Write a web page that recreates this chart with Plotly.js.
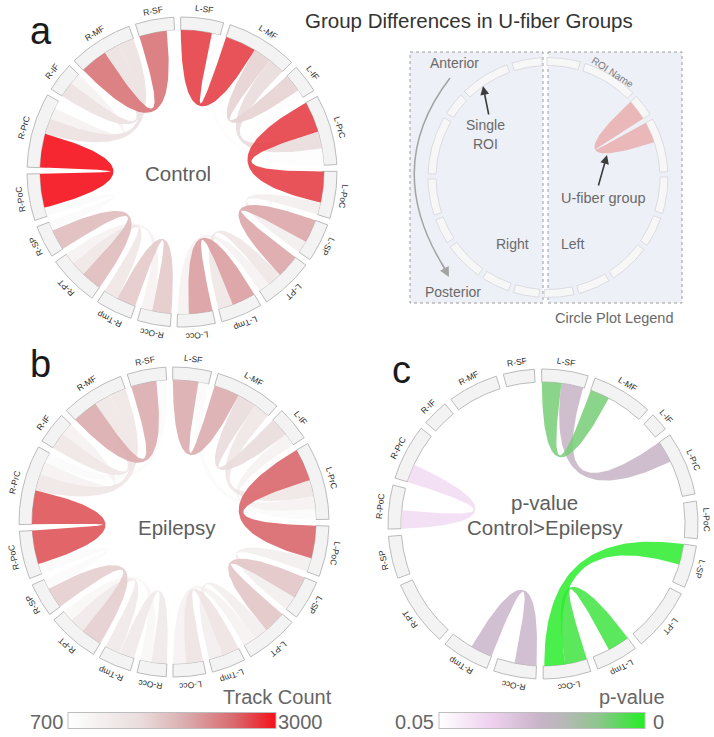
<!DOCTYPE html>
<html><head><meta charset="utf-8">
<script src="https://cdn.plot.ly/plotly-3.0.1.min.js"></script>
<style>html,body{margin:0;padding:0;background:#fff}#chart{width:714px;height:737px}</style>
</head><body><div id="chart"></div>
<script>
// ---------------- DATA ----------------
// ROIs, clockwise from the top of each circle
const roiNames = ['L-SF','L-MF','L-IF','L-PrC','L-PoC','L-SP','L-PT','L-Tmp','L-Occ',
                  'R-Occ','R-Tmp','R-PT','R-SP','R-PoC','R-PrC','R-IF','R-MF','R-SF'];

// U-fiber groups (panels a and b); list order = stacking order inside each ROI
const linkFrom = ['L-SF','L-PrC','L-SP','L-Tmp','R-SF','R-SP','R-PoC','R-PrC','R-Tmp',
                  'L-MF','L-MF','L-IF','L-SF','L-PoC','L-PT','L-PT','R-MF','R-MF','R-IF','R-SF','R-PT','R-PT'];
const linkTo   = ['L-MF','L-PoC','L-PT','L-Occ','R-MF','R-PT','R-SP','R-PoC','R-Occ',
                  'L-IF','L-PrC','L-PrC','L-PrC','L-SP','L-Tmp','L-Occ','R-IF','R-PrC','R-PrC','R-PrC','R-Tmp','R-Occ'];
const trackControl  = [2750,2750,2050,2100,2450,1850,800,3000,1700,
                       1600,1500,750,750,1100,1300,1000,1400,1400,1000,700,1300,1000];
const trackEpilepsy = [2000,2550,1750,1350,2000,1650,800,2650,1200,
                       1500,1300,1000,800,1100,1100,1000,1300,1300,1000,800,1200,900];

// Panel c: ROI sizes, significant groups, their widths and p-values
const roiSizeP = [17.5,23,7,24,14,16,24,16,18,16,18,25,16,16.5,21,10,19,11.7];
const sigFrom  = ['L-SF','L-SF','R-PrC','L-Occ','L-SP','R-Tmp'];
const sigTo    = ['L-MF','L-PrC','R-PoC','L-Tmp','L-Occ','R-Occ'];
const sigWidth = [8,9,7.5,9,8.5,9];
const pValue   = [0.009,0.025,0.04,0.003,0.001,0.026];

// Legend example group
const legendFrom = ['L-IF'], legendTo = ['L-PrC'], legendWidth = [2350];

// Colour scales
const trackScale = [[0,'#ffffff'],[0.15,'#f5f0f0'],[0.35,'#eadcdc'],[0.55,'#dbb0b2'],[0.8,'#d8696d'],[1,'#f5101a']];
const pScale = [[0,'#ffffff'],[0.25,'#efd1ef'],[0.5,'#c6b3c6'],[0.62,'#b5b9b5'],[0.78,'#8ac78a'],[0.9,'#52dc52'],[1,'#22f022']];
const trackMin = 700, trackMax = 3000, pMax = 0.05;

// ---------------- GEOMETRY HELPERS ----------------
const F = "'Helvetica Neue', Helvetica, 'Liberation Sans', Arial, sans-serif";
const D = Math.PI / 180;
function pt(cx, cy, r, a) { return [cx + r * Math.sin(a * D), cy - r * Math.cos(a * D)]; }
function hex2rgb(h) { return [parseInt(h.slice(1,3),16), parseInt(h.slice(3,5),16), parseInt(h.slice(5,7),16)]; }
function colorAt(scale, t) {
  t = Math.max(0, Math.min(1, t));
  for (let i = 1; i < scale.length; i++) {
    if (t <= scale[i][0]) {
      const f = (t - scale[i-1][0]) / (scale[i][0] - scale[i-1][0]);
      const a = hex2rgb(scale[i-1][1]), b = hex2rgb(scale[i][1]);
      return 'rgb(' + a.map((v, k) => Math.round(v + (b[k] - v) * f)).join(',') + ')';
    }
  }
  return scale[scale.length-1][1];
}
function roiTotals(froms, tos, vals) {
  const s = roiNames.map(() => 0);
  froms.forEach((f, i) => { s[roiNames.indexOf(f)] += vals[i]; s[roiNames.indexOf(tos[i])] += vals[i]; });
  return s;
}
function layoutRing(sizes, gap, start) {
  const total = sizes.reduce((a, v) => a + v, 0);
  const k = (360 - gap * sizes.length) / total;
  let a = start; const segs = [];
  sizes.forEach(v => { segs.push([a, a + v * k]); a += v * k + gap; });
  return { segs, k };
}
function linkEnds(froms, tos, widths, segs, k) {
  const cur = segs.map(s => s[0]);
  return froms.map((f, i) => {
    const ia = roiNames.indexOf(f), ib = roiNames.indexOf(tos[i]);
    const w = widths[i] * k;
    const ea = [cur[ia], cur[ia] + w]; cur[ia] += w;
    const eb = [cur[ib], cur[ib] + w]; cur[ib] += w;
    return [ea, eb];
  });
}
function ribbon(cx, cy, r, ea, eb) {
  const xs = [], ys = [];
  const arc = (a0, a1) => { const n = Math.max(3, Math.ceil(Math.abs(a1 - a0) / 0.5));
    for (let j = 0; j <= n; j++) { const p = pt(cx, cy, r, a0 + (a1 - a0) * j / n); xs.push(p[0]); ys.push(p[1]); } };
  const bez = (a0, a1) => { const p0 = pt(cx, cy, r, a0), p2 = pt(cx, cy, r, a1);
    for (let j = 1; j < 60; j++) { const t = j / 60, u = 1 - t;
      xs.push(u*u*p0[0] + 2*u*t*cx + t*t*p2[0]); ys.push(u*u*p0[1] + 2*u*t*cy + t*t*p2[1]); } };
  arc(ea[0], ea[1]); bez(ea[1], eb[0]); arc(eb[0], eb[1]); bez(eb[1], ea[0]);
  xs.push(xs[0]); ys.push(ys[0]);
  const m = (ea[0] + ea[1] + eb[0] + eb[1]) / 4, da = Math.abs((ea[0]+ea[1]) - (eb[0]+eb[1])) / 4;
  const tip = pt(cx, cy, r * 0.5 * Math.cos(da * D), m);
  return { xs, ys, tip };
}
function sector(cx, cy, r0, r1, a0, a1, fill, line, lw) {
  const xs = [], ys = []; const n = Math.max(4, Math.ceil((a1 - a0) / 0.5));
  for (let j = 0; j <= n; j++) { const p = pt(cx, cy, r1, a0 + (a1 - a0) * j / n); xs.push(p[0]); ys.push(p[1]); }
  for (let j = n; j >= 0; j--) { const p = pt(cx, cy, r0, a0 + (a1 - a0) * j / n); xs.push(p[0]); ys.push(p[1]); }
  xs.push(xs[0]); ys.push(ys[0]);
  return { type:'scatter', mode:'lines', x:xs, y:ys, fill:'toself', fillcolor:fill,
           line:{color:line, width:lw}, hoverinfo:'skip', showlegend:false };
}

const traces = [], annotations = [], shapes = [];

function panel(o) {
  const ring = layoutRing(o.sizes, o.gap, -0.5);
  ring.segs.forEach(s => traces.push(sector(o.cx, o.cy, o.rIn, o.rOut, s[0], s[1], o.segFill, o.segLine, o.segLw)));
  const ends = linkEnds(o.froms, o.tos, o.widths, ring.segs, ring.k);
  const idx = o.froms.map((_, i) => i).sort((a, b) => o.order(a) - o.order(b));
  const tips = [];
  idx.forEach(i => {
    const rb = ribbon(o.cx, o.cy, o.rIn, ends[i][0], ends[i][1]);
    tips[i] = rb.tip;
    traces.push({ type:'scatter', mode:'lines', x:rb.xs, y:rb.ys, fill:'toself', fillcolor:o.colors[i],
                  line:{width:0, color:o.colors[i]}, opacity:o.opacity, hoverinfo:'skip', showlegend:false });
  });
  if (o.labels) ring.segs.forEach((s, i) => {
    const m = (s[0] + s[1]) / 2, p = pt(o.cx, o.cy, o.rOut + 9, m);
    let ang = ((m % 360) + 360) % 360; if (ang > 180) ang -= 360;
    annotations.push({ x:p[0], y:p[1], xref:'x', yref:'y', text:roiNames[i], textangle:ang, showarrow:false,
                       xanchor:'center', yanchor:'middle', font:{size:8.5, color:'#2a2a2a', family:F} });
  });
  return tips;
}

// ---------------- LEGEND BOXES ----------------
shapes.push({ type:'rect', xref:'x', yref:'y', x0:410, y0:52, x1:543, y1:303, fillcolor:'#eef0f7',
              line:{color:'#9c9c9c', width:1, dash:'dot'}, layer:'below' });
shapes.push({ type:'rect', xref:'x', yref:'y', x0:548, y0:52, x1:682, y1:303, fillcolor:'#eef0f7',
              line:{color:'#9c9c9c', width:1, dash:'dot'}, layer:'below' });

const trackColor = v => colorAt(trackScale, (v - trackMin) / (trackMax - trackMin));
const sizesA = roiTotals(linkFrom, linkTo, trackControl);
const sizesB = roiTotals(linkFrom, linkTo, trackEpilepsy);

// Legend circle
panel({ cx:548, cy:177.5, rIn:112, rOut:120, gap:2.5, sizes:sizesA, froms:legendFrom, tos:legendTo,
        widths:legendWidth, colors:['#eab8b8'], order:i => i, opacity:1,
        segFill:'#f7f7f8', segLine:'#d4d6dc', segLw:0.8, labels:false });

// Panel a
const tipsA = panel({ cx:182, cy:172, rIn:142, rOut:155, gap:2.5, sizes:sizesA, froms:linkFrom, tos:linkTo,
        widths:trackControl, colors:trackControl.map(trackColor), order:i => trackControl[i], opacity:0.9,
        segFill:'#f3f3f3', segLine:'#ababab', segLw:0.8, labels:true });
// Panel b
const tipsB = panel({ cx:174, cy:522, rIn:142, rOut:155, gap:2.5, sizes:sizesB, froms:linkFrom, tos:linkTo,
        widths:trackEpilepsy, colors:trackEpilepsy.map(trackColor), order:i => trackEpilepsy[i], opacity:0.9,
        segFill:'#f3f3f3', segLine:'#ababab', segLw:0.8, labels:true });
// Panel c
const tipsC = panel({ cx:543, cy:524, rIn:142, rOut:155, gap:2.7, sizes:roiSizeP, froms:sigFrom, tos:sigTo,
        widths:sigWidth, colors:pValue.map(p => colorAt(pScale, 1 - p / pMax)), order:i => -pValue[i], opacity:0.85,
        segFill:'#f3f3f3', segLine:'#ababab', segLw:0.8, labels:true });

// Colour bars (carried by invisible markers on the groups)
traces.push({ type:'scatter', mode:'markers', x:tipsB.map(p => p[0]), y:tipsB.map(p => p[1]), hoverinfo:'skip', showlegend:false,
  marker:{ size:1, opacity:0, color:trackEpilepsy, colorscale:trackScale, cmin:trackMin, cmax:trackMax, showscale:true,
    colorbar:{ orientation:'h', lenmode:'pixels', len:208, thickness:16, x:172/714, xanchor:'center', y:1 - 721/737, yanchor:'middle',
      showticklabels:false, ticks:'', outlinecolor:'#bdbdbd', outlinewidth:1, xpad:0, ypad:0, borderwidth:0 } } });
traces.push({ type:'scatter', mode:'markers', x:tipsC.map(p => p[0]), y:tipsC.map(p => p[1]), hoverinfo:'skip', showlegend:false,
  marker:{ size:1, opacity:0, color:pValue.map(p => -p), colorscale:pScale.map(s => [s[0], s[1]]), cmin:-pMax, cmax:0, showscale:true,
    colorbar:{ orientation:'h', lenmode:'pixels', len:206, thickness:16, x:542/714, xanchor:'center', y:1 - 721/737, yanchor:'middle',
      showticklabels:false, ticks:'', outlinecolor:'#bdbdbd', outlinewidth:1, xpad:0, ypad:0, borderwidth:0 } } });

// ---------------- TEXT ----------------
function txt(x, y, text, size, color, extra) {
  annotations.push(Object.assign({ x, y, xref:'x', yref:'y', text, showarrow:false, xanchor:'center', yanchor:'middle',
    font:{ size, color, family:F } }, extra || {}));
}
txt(469, 20, 'Group Differences in U-fiber Groups', 20.5, '#333');
txt(41, 31, 'a', 38, '#1a1a1a');
txt(40, 364, 'b', 38, '#1a1a1a');
txt(401, 370, 'c', 38, '#1a1a1a');
txt(178, 173, 'Control', 20.5, '#5e5e5e');
txt(177, 527, 'Epilepsy', 20.5, '#5e5e5e');
txt(544, 502, 'p-value', 20.5, '#5e5e5e');
txt(545, 527, 'Control>Epilepsy', 20.5, '#5e5e5e');
txt(277, 697, 'Track Count', 20, '#666');
txt(46, 722, '700', 20, '#666');
txt(300, 722, '3000', 20, '#666');
txt(632, 697, 'p-value', 20, '#666');
txt(414, 722, '0.05', 20, '#666');
txt(658, 722, '0', 20, '#666');
// legend texts
txt(454, 63, 'Anterior', 14, '#6a6a6a');
txt(453, 292, 'Posterior', 14, '#6a6a6a');
txt(485, 125, 'Single', 14, '#6a6a6a');
txt(485, 144, 'ROI', 14, '#6a6a6a');
txt(512, 244, 'Right', 14, '#6a6a6a');
txt(572, 244, 'Left', 14, '#6a6a6a');
txt(603, 198, 'U-fiber group', 14.5, '#6a6a6a');
txt(613, 72, 'ROI Name', 10, '#777', { textangle:33 });
txt(614, 318, 'Circle Plot Legend', 14.5, '#6a6a6a');
// legend arrows
shapes.push({ type:'path', xref:'x', yref:'y', path:'M 450 78 Q 380 169 447 272', line:{color:'#a3a3a3', width:1.5} });
annotations.push({ x:449, y:277, ax:441, ay:262, xref:'x', yref:'y', axref:'x', ayref:'y', text:'', showarrow:true,
  arrowhead:2, arrowsize:1.3, arrowwidth:1.5, arrowcolor:'#a3a3a3' });
annotations.push({ x:483, y:86, ax:489, ay:116, xref:'x', yref:'y', axref:'x', ayref:'y', text:'', showarrow:true,
  arrowhead:2, arrowsize:1.1, arrowwidth:1.6, arrowcolor:'#3d3d3d' });
annotations.push({ x:607, y:155, ax:598, ay:187, xref:'x', yref:'y', axref:'x', ayref:'y', text:'', showarrow:true,
  arrowhead:2, arrowsize:1.1, arrowwidth:1.6, arrowcolor:'#3d3d3d' });

const layout = {
  width:714, height:737, margin:{l:0, r:0, t:0, b:0, pad:0}, paper_bgcolor:'#fff', plot_bgcolor:'#fff',
  xaxis:{ range:[0,714], visible:false, fixedrange:true },
  yaxis:{ range:[737,0], visible:false, fixedrange:true },
  showlegend:false, annotations, shapes
};
Plotly.newPlot('chart', traces, layout, { staticPlot:true, displayModeBar:false });
</script>
</body></html>
